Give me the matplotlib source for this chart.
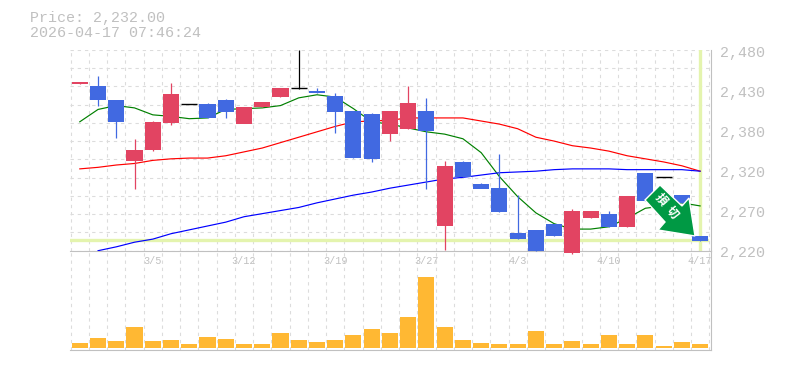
import numpy as np
import matplotlib
matplotlib.use('Agg')
import matplotlib.pyplot as plt
from matplotlib.patches import Polygon

# Values
opens = [2436, 2433, 2415, 2336, 2350, 2385, 2410, 2410, 2415, 2384, 2406, 2419,
         2431, 2427, 2420, 2401, 2397, 2371, 2378, 2401, 2252, 2335, 2306, 2301,
         2243, 2247, 2255, 2217, 2262, 2268, 2251, 2321, 2316, 2292, 2239]
highs = [2438, 2446, 2415, 2365, 2388, 2437, 2410, 2411, 2417, 2384, 2412, 2431,
         2480, 2431, 2424, 2401, 2398, 2401, 2433, 2418, 2336, 2336, 2308, 2345,
         2292, 2247, 2255, 2274, 2271, 2271, 2291, 2321, 2316, 2292, 2239]
lows = [2436, 2408, 2366, 2300, 2349, 2383, 2410, 2392, 2392, 2384, 2406, 2419,
        2430, 2424, 2372, 2340, 2335, 2362, 2378, 2300, 2221, 2315, 2306, 2270,
        2235, 2220, 2239, 2216, 2262, 2251, 2251, 2284, 2316, 2282, 2232]
closes = [2438, 2415, 2387, 2350, 2387, 2423, 2410, 2392, 2400, 2406, 2412, 2431,
          2431, 2424, 2400, 2340, 2339, 2401, 2411, 2375, 2330, 2316, 2300, 2270,
          2235, 2220, 2239, 2272, 2271, 2251, 2291, 2284, 2316, 2282, 2232]

ma_green = [2387, 2403, 2408, 2405, 2396, 2394, 2391, 2392, 2403, 2404, 2405, 2408,
            2418, 2422, 2419, 2404, 2387, 2384, 2379, 2374, 2371, 2365, 2347, 2316,
            2290, 2269, 2255, 2248, 2248, 2251, 2262, 2275, 2278, 2282, 2278]
ma_red = [2326, 2328, 2331, 2333, 2337, 2339, 2340, 2340, 2343, 2348, 2353, 2360,
          2367, 2374, 2381, 2387, 2388, 2389, 2392, 2392, 2392, 2392, 2388, 2384,
          2378, 2367, 2362, 2356, 2353, 2349, 2343, 2339, 2335, 2330, 2323]
ma_blue = [np.nan, 2220, 2225, 2231, 2235, 2242, 2247, 2252, 2257, 2264, 2268, 2272,
           2276, 2282, 2287, 2292, 2296, 2301, 2305, 2309, 2313, 2315, 2318, 2321,
           2322, 2323, 2325, 2326, 2326, 2326, 2325, 2325, 2325, 2325, 2323]
# bar heights in the lower panel
volumes = [5, 10, 7, 21, 7, 8, 4, 11, 9, 4, 4, 15, 8, 6, 8, 13, 19, 15, 31, 71, 21,
           8, 5, 4, 4, 17, 4, 7, 4, 13, 4, 13, 2, 6, 4]
cross_price = 2234
price_labels = ['2,480', '2,430', '2,380', '2,320', '2,270', '2,220']
date_pos = [4, 9, 14, 19, 24, 29, 34]
date_labels = ['3/5', '3/12', '3/19', '3/27', '4/3', '4/10', '4/17']

W, H = 785, 370
GRAY = '#c0c0c0'
GRID = '#dcdcdc'
PALE = '#e4f4ae'
UP = '#e24462'
DOWN = '#4169e1'
mono = 'Liberation Mono'
x = np.arange(len(opens))
xlim = (-0.52, 34.58)


def box(left, top, right, bottom):
    return [left / W, 1 - bottom / H, (right - left) / W, (bottom - top) / H]


fig = plt.figure(figsize=(W / 100, H / 100), dpi=100)
ax = fig.add_axes(box(70.3, 50, 710.7, 250.7))
ax2 = fig.add_axes(box(70.3, 250.7, 710.7, 350))
# candles hang below the price panel, so it goes on top
ax.set_zorder(2)
ax.patch.set_visible(False)

for a in (ax, ax2):
    a.set_xlim(xlim)
    a.set_xticks(np.arange(-0.5, 34.6, 1))
    a.grid(axis='x', color=GRID, lw=0.8, ls=(0, (3, 3.5)), zorder=1)
    a.set_axisbelow(True)
    for s in a.spines.values():
        s.set_visible(False)
    a.spines['right'].set_visible(True)
    a.spines['right'].set_color(GRAY)
    a.spines['bottom'].set_visible(True)
    a.spines['bottom'].set_color(GRAY)
    a.tick_params(length=0, labelbottom=False, labelleft=False)

ax.set_ylim(2220, 2480)
ax.set_yticks(np.arange(2220, 2481, 260 / 11))
ax.grid(axis='y', color=GRID, lw=0.8, ls=(0, (3, 3.5)), zorder=1)

# last price cross
ax.axhline(cross_price, xmax=0.995, color=PALE, lw=2.4, zorder=2)
ax.axvline(x[-1], color=PALE, lw=2.4, zorder=2)

# moving averages
ax.plot(x, ma_green, color='#008000', lw=0.85, zorder=3)
ax.plot(x, ma_red, color='#ff0000', lw=0.85, zorder=3)
ax.plot(x, ma_blue, color='#0000ff', lw=0.85, zorder=3)

# candles
for i in x:
    if closes[i] > opens[i]:
        c = UP
    elif closes[i] < opens[i]:
        c = DOWN
    else:
        c = 'black'
    ax.vlines(i, lows[i], highs[i], color=c, lw=0.9, zorder=4, clip_on=False)
    if c == 'black':
        ax.hlines(opens[i], i - 0.44, i + 0.44, color=c, lw=1, zorder=4)
    else:
        ax.bar(i, closes[i] - opens[i], bottom=opens[i], width=0.88, color=c,
               zorder=4, clip_on=False)

ax2.set_ylim(-2, 97)
ax2.bar(x, volumes, width=0.88, color='#ffb833', zorder=3)

# price and date labels
for label, y in zip(price_labels, np.linspace(53.5, 253.5, 6)):
    fig.text(720 / W, 1 - y / H, label, family=mono, fontsize=10.8, color=GRAY, va='center')
for p, label in zip(date_pos, date_labels):
    ax2.text(p, 0.895, label, transform=ax2.get_xaxis_transform(), family=mono, fontsize=7.3,
             color=GRAY, ha='center', va='center', clip_on=False)
for label, y in zip(['Price: 2,232.00', '2026-04-17 07:46:24'], [18, 33]):
    fig.text(30 / W, 1 - y / H, label, family=mono, fontsize=10.8, color=GRAY, va='center')

# sign over the last candles
arrow = [(660, 185), (645, 200), (665, 222), (658, 230), (695, 236), (689, 198), (682, 206)]
fig.add_artist(Polygon([(px / W, 1 - py / H) for px, py in arrow], closed=True,
                       transform=fig.transFigure, facecolor='#009944', edgecolor='white',
                       lw=1, zorder=6))
for ch, px, py in zip('損切', [661, 672], [200, 213]):
    fig.text(px / W, 1 - py / H, ch, family=['Noto Sans CJK JP', 'DejaVu Sans'], rotation=-50,
             rotation_mode='anchor', fontsize=8.5, fontweight='bold', color='white', ha='center',
             va='center', zorder=7)

fig.savefig('out.png', dpi=100)
